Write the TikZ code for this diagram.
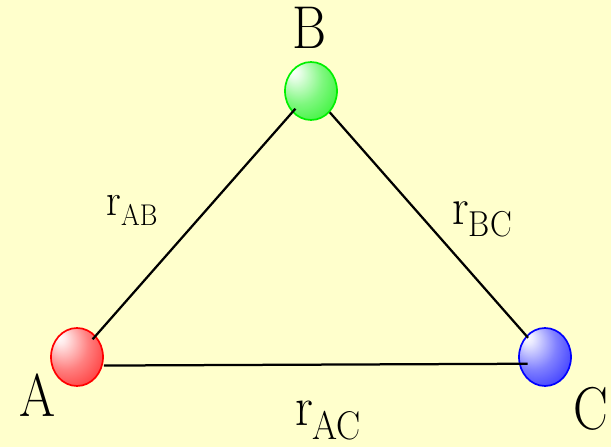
\documentclass[tikz,border=0pt]{standalone}
\usepackage{tikz}
\usetikzlibrary{shapes.geometric, positioning}
\definecolor{paperyellow}{RGB}{255,255,204}
\definecolor{atomred}{RGB}{255,0,0}
\definecolor{atomgreen}{RGB}{0,240,0}
\definecolor{atomblue}{RGB}{0,0,255}
\colorlet{ballcol}{atomred}
\pgfdeclareradialshading[ballcol]{glassball}{\pgfpoint{-18bp}{18bp}}{%
  color(0bp)=(white); color(5bp)=(ballcol!8!white); color(22bp)=(ballcol!50!white);
  color(42bp)=(ballcol!85!white); color(58bp)=(ballcol)}
% r with a lowered index: sizes of r and index, drop, index text
\newcommand{\rdist}[4]{\scalebox{0.9}[1]{\fontsize{#1}{#1}\selectfont r\raisebox{-#3}{\fontsize{#2}{#2}\selectfont #4}}}

\begin{document}
\begin{tikzpicture}[
    x=0.025cm, y=-0.025cm,
    atom/.style={ellipse, minimum width=1.3cm, minimum height=1.45cm, inner sep=0pt, outer sep=0pt,
                 draw=#1, line width=1.2pt, /utils/exec={\colorlet{ballcol}{#1}}, shading=glassball, shade},
    letter/.style={inner sep=0pt, font=\fontsize{43}{48}\selectfont},
    dist/.style={inner sep=0pt},
    bond/.style={line width=1.6pt, shorten <=-0.1cm, shorten >=-0.1cm}
]
\fill[paperyellow] (0,0) rectangle (611,447);

\node[atom=atomred] (A) at (77,357) {};
\node[atom=atomgreen] (B) at (311,91) {};
\node[atom=atomblue] (C) at (545,357) {};

\draw[bond] (A) -- (B);
\draw[bond, shorten <=0.02cm, shorten >=-0.05cm] (B) -- (C);
\draw[bond, shorten <=0.05cm, shorten >=-0.2cm] (A.-19) -- (C.195);

\node[letter] (labA) at (38,395) {\scalebox{0.86}[1]{A}};
\node[letter] (labB) at (310,28) {\scalebox{0.86}[1]{B}};
\node[letter] (labC) at (591,409) {\scalebox{0.86}[1]{C}};

\node[dist] (rAB) at (132,210) {\rdist{32.7}{21.3}{7.1pt}{AB}};
\node[dist] (rBC) at (482,219) {\rdist{37}{25.6}{8.5pt}{BC}};
\node[dist] (rAC) at (328,421) {\rdist{39.8}{28.5}{10pt}{AC}};
\end{tikzpicture}
\end{document}
